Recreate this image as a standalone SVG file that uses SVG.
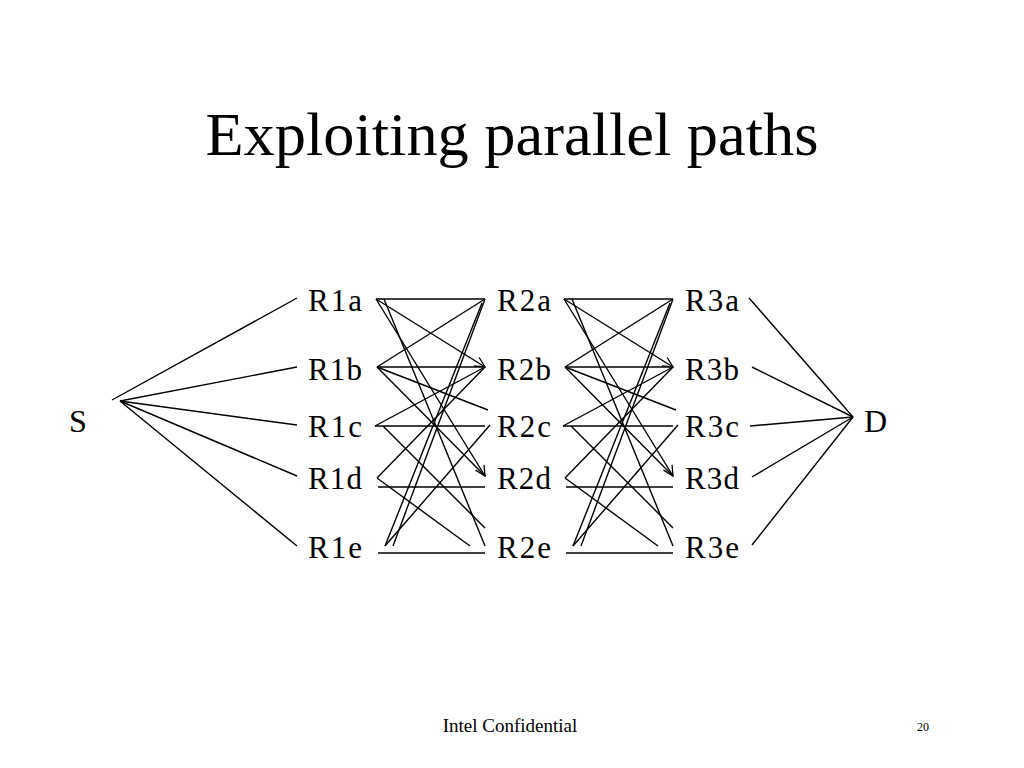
<svg xmlns="http://www.w3.org/2000/svg" width="1024" height="768" viewBox="0 0 1024 768">
<style>
.t{font-family:"Liberation Serif","Times New Roman",serif;fill:#000}
.lbl{font-size:31px}
.c line{stroke:#000;stroke-width:1.4;fill:none}
</style>
<defs>
<marker id="ah" viewBox="0 0 12 12" refX="11" refY="6" markerWidth="12" markerHeight="12" markerUnits="userSpaceOnUse" orient="auto">
<path d="M1,1 L11,6 L1,11" fill="none" stroke="#000" stroke-width="1.3"/>
</marker>
<g id="stage" stroke="#000" stroke-width="1.4" fill="none">
<line x1="376" y1="299" x2="485" y2="299"/>
<line x1="377" y1="367" x2="485" y2="367"/>
<line x1="375" y1="426" x2="485" y2="426"/>
<line x1="378" y1="487" x2="485" y2="487"/>
<line x1="378" y1="553" x2="485" y2="553"/>
<line x1="376" y1="299" x2="485" y2="367" marker-end="url(#ah)"/>
<line x1="376" y1="299" x2="485" y2="476" marker-end="url(#ah)"/>
<line x1="384" y1="299" x2="485" y2="546"/>
<line x1="377" y1="367" x2="485" y2="299"/>
<line x1="377" y1="367" x2="488" y2="410"/>
<line x1="377" y1="367" x2="485" y2="476"/>
<line x1="375" y1="426" x2="485" y2="367"/>
<line x1="383" y1="426" x2="485" y2="528"/>
<line x1="377" y1="478" x2="485" y2="367"/>
<line x1="377" y1="478" x2="470" y2="546"/>
<line x1="385" y1="546" x2="490" y2="425"/>
<line x1="385" y1="546" x2="482" y2="303"/>
<line x1="393" y1="546" x2="485" y2="299"/>
</g>
</defs>
<g id="title"><text class="t" x="512" y="155" font-size="61" text-anchor="middle" textLength="613" lengthAdjust="spacingAndGlyphs">Exploiting parallel paths</text></g>
<g id="S"><text class="t" x="69" y="432" font-size="32">S</text></g>
<g id="D"><text class="t" x="864" y="432" font-size="32">D</text></g>
<g id="R1a"><text class="t lbl" x="308" y="311" textLength="54">R1a</text></g>
<g id="R1b"><text class="t lbl" x="308" y="380" textLength="54">R1b</text></g>
<g id="R1c"><text class="t lbl" x="308" y="437" textLength="54">R1c</text></g>
<g id="R1d"><text class="t lbl" x="308" y="489" textLength="54">R1d</text></g>
<g id="R1e"><text class="t lbl" x="308" y="558" textLength="54">R1e</text></g>
<g id="R2a"><text class="t lbl" x="497" y="311" textLength="54">R2a</text></g>
<g id="R2b"><text class="t lbl" x="497" y="380" textLength="54">R2b</text></g>
<g id="R2c"><text class="t lbl" x="497" y="437" textLength="54">R2c</text></g>
<g id="R2d"><text class="t lbl" x="497" y="489" textLength="54">R2d</text></g>
<g id="R2e"><text class="t lbl" x="497" y="558" textLength="54">R2e</text></g>
<g id="R3a"><text class="t lbl" x="685" y="311" textLength="54">R3a</text></g>
<g id="R3b"><text class="t lbl" x="685" y="380" textLength="54">R3b</text></g>
<g id="R3c"><text class="t lbl" x="685" y="437" textLength="54">R3c</text></g>
<g id="R3d"><text class="t lbl" x="685" y="489" textLength="54">R3d</text></g>
<g id="R3e"><text class="t lbl" x="685" y="558" textLength="54">R3e</text></g>
<g id="connectors" class="c">
<line x1="112" y1="400" x2="297" y2="298"/>
<line x1="120" y1="401" x2="297" y2="367"/>
<line x1="120" y1="401" x2="297" y2="425"/>
<line x1="120" y1="401" x2="297" y2="476"/>
<line x1="120" y1="401" x2="297" y2="546"/>
<use href="#stage"/>
<use href="#stage" transform="translate(188,0)"/>
<line x1="749" y1="298" x2="853" y2="417"/>
<line x1="752" y1="367" x2="853" y2="417"/>
<line x1="750" y1="426" x2="853" y2="417"/>
<line x1="752" y1="477" x2="853" y2="417"/>
<line x1="752" y1="545" x2="853" y2="417"/>
</g>
<g id="footer">
<text class="t" x="510" y="732" font-size="19" text-anchor="middle">Intel Confidential</text>
<text class="t" x="917" y="731" font-size="12">20</text>
</g>
</svg>
